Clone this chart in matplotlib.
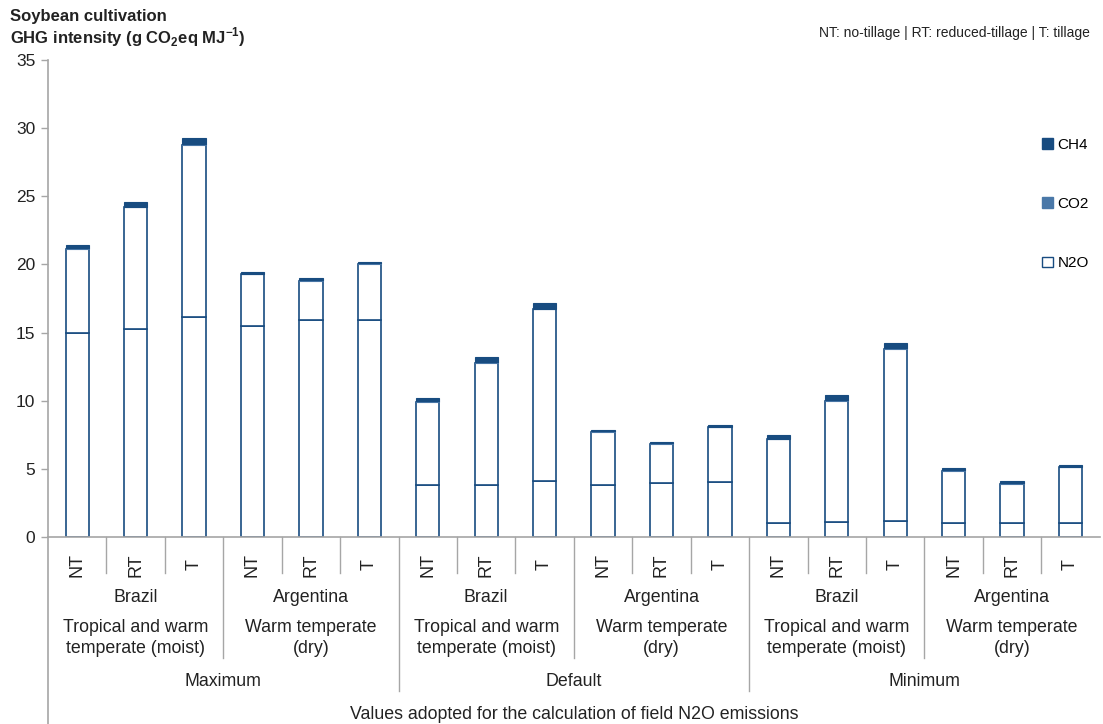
import numpy as np
import matplotlib
matplotlib.use("Agg")
import matplotlib.pyplot as plt
from matplotlib.patches import Patch

plt.rcParams['font.family'] = ['Liberation Sans', 'DejaVu Sans']

# tillage systems repeated for each country / scenario
tillage = ["NT", "RT", "T"] * 6
countries = ["Brazil", "Argentina"] * 3
climates = ["Tropical and warm\ntemperate (moist)", "Warm temperate\n(dry)"] * 3
scenarios = ["Maximum", "Default", "Minimum"]

# N2O split in two parts (lower segment + upper segment top), CO2, CH4
n2o_lower = [15.0, 15.25, 16.15, 15.45, 15.95, 15.95,
             3.8, 3.85, 4.1, 3.85, 3.95, 4.0,
             1.05, 1.08, 1.15, 1.05, 1.05, 1.05]
n2o_top = [21.15, 24.2, 28.8, 19.27, 18.8, 20.03,
           9.9, 12.8, 16.7, 7.7, 6.85, 8.05,
           7.17, 10.0, 13.8, 4.87, 3.91, 5.11]
co2 = [0.05] * 18
ch4 = [0.25, 0.35, 0.4, 0.15, 0.15, 0.12,
       0.25, 0.35, 0.45, 0.12, 0.1, 0.12,
       0.24, 0.37, 0.4, 0.14, 0.15, 0.14]

dark = "#184c80"
mid = "#4a78a8"
grey = "#a6a6a6"

fig = plt.figure(figsize=(11.03, 7.24), dpi=100)
ax = fig.add_axes([0.0435, 0.2583, 0.9535, 0.6587])

x = np.arange(len(tillage))
lower = np.array(n2o_lower)
top = np.array(n2o_top)
w = 0.4
ax.bar(x, lower, w, color="white", edgecolor=dark, linewidth=1.2)
ax.bar(x, top - lower, w, bottom=lower, color="white", edgecolor=dark, linewidth=1.2)
ax.bar(x, co2, w, bottom=top, color=mid, edgecolor=mid, linewidth=0.8)
ax.bar(x, ch4, w, bottom=top + np.array(co2), color=dark, edgecolor=dark, linewidth=0.8)

ax.set_xlim(-0.5, len(tillage) - 0.5)
ax.set_ylim(0, 35)
ax.set_yticks(range(0, 36, 5))
ax.tick_params(axis='y', labelsize=12.5, color=grey, length=5, width=1, pad=4, labelcolor="#222222")
ax.set_xticks([])
for s in ["top", "right"]:
    ax.spines[s].set_visible(False)
ax.spines["left"].set_color(grey)
ax.spines["bottom"].set_color(grey)
ax.spines["left"].set_linewidth(1.2)
ax.spines["bottom"].set_linewidth(1.2)

tr = ax.get_xaxis_transform()
# y-axis line continued below the plot
ax.plot([-0.5, -0.5], [0, -0.40], transform=tr, color=grey, lw=1.2, clip_on=False)
# small separators between bars
for i in range(1, 18):
    if i % 6 == 0:
        y1 = -0.322
    elif i % 3 == 0:
        y1 = -0.2537
    else:
        y1 = -0.0748
    ax.plot([i - 0.5, i - 0.5], [0, y1], transform=tr, color=grey, lw=1.0, clip_on=False)

for i, t in enumerate(tillage):
    ax.text(i, -0.0587, t, transform=tr, rotation=90, ha="center", va="center",
            fontsize=13, color="#222222")
for j in range(6):
    cx = j * 3 + 1
    ax.text(cx, -0.126, countries[j], transform=tr, ha="center", va="center",
            fontsize=12.8, color="#222222")
    ax.text(cx, -0.212, climates[j], transform=tr, ha="center", va="center",
            fontsize=12.8, color="#222222", linespacing=1.3)
for k, sc in enumerate(scenarios):
    ax.text(k * 6 + 2.5, -0.302, sc, transform=tr, ha="center", va="center",
            fontsize=12.8, color="#222222")
ax.text(8.5, -0.373, "Values adopted for the calculation of field N2O emissions", transform=tr,
        ha="center", va="center", fontsize=12.8, color="#222222")

fig.text(10 / 1103, 1 - 17 / 724, "Soybean cultivation", fontsize=12, fontweight="bold",
         ha="left", va="center", color="#222222")
fig.text(10 / 1103, 1 - 37 / 724, r"GHG intensity (g CO$_\mathregular{2}$eq MJ$^\mathregular{-1}$)",
         fontsize=12, fontweight="bold", ha="left", va="center", color="#222222")
fig.text(1090 / 1103, 1 - 33 / 724, "NT: no-tillage | RT: reduced-tillage | T: tillage",
         fontsize=10, ha="right", va="center", color="#222222")

handles = [Patch(facecolor=dark, edgecolor=dark, label="CH4"),
           Patch(facecolor=mid, edgecolor=mid, label="CO2"),
           Patch(facecolor="white", edgecolor=dark, label="N2O")]
fig.legend(handles=handles, loc="upper left", bbox_to_anchor=(1036 / 1103, 1 - 132 / 724),
           frameon=False, fontsize=11, handlelength=0.7, handleheight=0.7,
           handletextpad=0.3, labelspacing=2.95, borderaxespad=0)

fig.savefig("out.png", dpi=100)
